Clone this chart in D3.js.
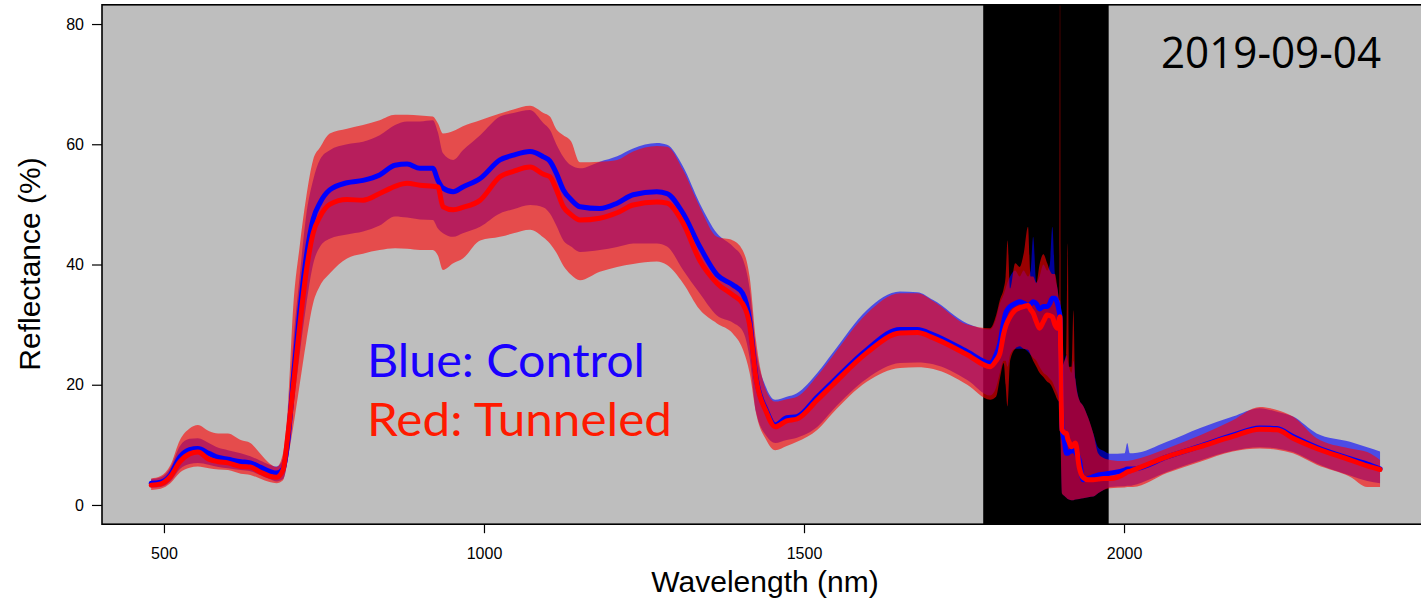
<!DOCTYPE html>
<html>
<head>
<meta charset="utf-8">
<script src="https://cdn.jsdelivr.net/npm/d3@7"></script>
<style>
  body { margin: 0; background: #fff; }
  svg { display: block; }
</style>
</head>
<body>
<svg id="chart" width="1421" height="605"></svg>
<script>
// Leaf reflectance spectra, 2019-09-04: mean and spread for control vs tunneled plots.
const wavelengths = [
  480, 495, 510, 525, 540, 553, 570, 585, 600, 620,
  635, 650, 665, 676, 686, 694, 702, 712, 722, 733,
  744, 759, 786, 811, 837, 861, 880, 900, 920, 928,
  936, 952, 967, 994, 1025, 1046, 1072, 1093, 1103, 1113,
  1124, 1136, 1150, 1181, 1208, 1233, 1270, 1286, 1311, 1337,
  1364, 1389, 1404, 1415, 1425, 1441, 1455, 1473, 1489, 1521,
  1545, 1598, 1650, 1677, 1702, 1755,
  1791, 1800, 1806, 1812, 1815, 1818, 1822, 1830, 1837, 1843,
  1850, 1854, 1858, 1863, 1868, 1874, 1880, 1884, 1888, 1892,
  1896, 1899, 1900, 1901, 1903, 1907, 1910, 1912, 1914, 1918,
  1921, 1924, 1930, 1936, 1944, 1952, 1960, 1968, 1978,
  2001, 2005, 2009, 2014, 2067, 2119, 2170, 2212, 2239, 2264,
  2301, 2353, 2380, 2400
];

const controlMean = [
  3.6, 3.8, 5.0, 8.0, 9.2, 9.4, 8.6, 7.9, 7.6, 7.2,
  7.0, 6.3, 5.6, 5.3, 6.0, 11, 21, 32, 41, 47.5,
  50.3, 52.4, 53.6, 54, 54.9, 56.5, 56.7, 56, 56, 54,
  52.7, 52.1, 52.9, 54.3, 57.4, 58.2, 58.8, 57.9, 57.2, 55.2,
  52.4, 50.8, 49.6, 49.3, 50.2, 51.6, 52.1, 51.8, 48.5, 43,
  38.3, 36.6, 35.2, 30.8, 21.3, 15.8, 13.3, 14.5, 14.7, 18,
  20.5, 25.8, 29.2, 29.2, 28.3, 25.5,
  23.6, 25.0, 26.9, 30.5, 31.9, 32.5, 33.0, 33.5, 33.8, 33.6,
  33.2, 33.4, 33.8, 33.5, 32.6, 33.0, 33.0, 33.5, 34.4, 34.4,
  33.5, 32.0, 31.3, 25.0, 13.0, 10.5, 8.6, 8.6, 8.8, 9.0,
  9.1, 8.8, 7.5, 4.2, 4.4, 4.7, 5.0, 5.1, 5.3,
  5.8, 6.0, 6.0, 6.0, 8.0, 9.8, 11.6, 12.8, 12.7, 11.4,
  9.6, 7.7, 6.8, 6.0
];
const controlLow = [
  2.9, 3.0, 3.9, 6.0, 6.8, 7.0, 6.7, 6.3, 6.1, 5.8,
  5.6, 5.0, 4.3, 3.9, 4.3, 8, 16, 25, 33, 40,
  43, 44.3, 45, 45.5, 46.5, 48, 47.8, 47.5, 47.4, 46,
  45.2, 44.6, 45.2, 46.3, 48.5, 49.2, 49.9, 49.5, 48.5, 46.5,
  44, 43, 42.1, 42.4, 42.9, 43.5, 43.5, 43, 39.1, 35.2,
  31.5, 30.3, 29, 24.5, 15.5, 11.5, 10.3, 10.8, 11.2, 13,
  15.8, 21, 23.6, 23.7, 23.4, 20.8,
  18.2, 19.5, 22, 24, 24, 23, 25, 26, 26, 26,
  25.5, 25, 24.5, 24, 23, 22, 21.5, 21, 20.5, 19.5,
  18.5, 17.5, 17, 12, 2, 1.5, 1.2, 1.0, 0.9, 0.8,
  0.8, 0.9, 1.0, 1.1, 1.3, 1.4, 2.0, 2.5, 3.0,
  3.1, 3.2, 3.2, 3.3, 5.5, 7.4, 9.0, 9.6, 9.4, 8.8,
  6.9, 4.9, 4.0, 3.6
];
const controlHigh = [
  4.3, 4.6, 6.2, 9.8, 11.0, 11.1, 10.3, 9.5, 9.1, 8.6,
  8.1, 7.4, 6.7, 6.4, 7.7, 15, 27, 38, 48, 54,
  57.5, 59, 60, 60.4, 61.5, 63.2, 63.8, 63.8, 64, 62,
  58.5, 57.4, 59, 61.5, 64.6, 65.2, 65.7, 63.5, 62.4, 60,
  57.9, 56.5, 56, 57.1, 58, 59.3, 60.2, 59.9, 56.3, 50.2,
  45.2, 43, 41, 36, 26, 19.5, 17.5, 18, 18.6, 22,
  25.3, 32.4, 35.5, 35.4, 34.1, 30.2,
  29.2, 31, 33.5, 35, 36, 37, 38, 39, 38, 39,
  38, 39, 44.6, 37, 38, 40, 39, 40, 46.3, 38.4,
  36, 34, 34, 33, 23, 24, 25, 24, 23, 22,
  24, 21, 17.5, 16.5, 14.5, 11.9, 9.5, 9.0, 8.5,
  8.6, 10.3, 8.6, 8.6, 10.5, 12.8, 14.7, 16.1, 15.5, 14.7,
  11.9, 10.5, 9.6, 8.9
];

const tunneledMean = [
  3.3, 3.5, 4.7, 7.2, 8.5, 8.8, 7.6, 7.2, 7.0, 6.4,
  6.3, 5.5, 4.8, 4.6, 5.8, 12, 19.7, 29.7, 38.6, 45.2,
  48, 50, 50.8, 50.7, 51.8, 53, 53.5, 53.2, 53, 52.9,
  49.6, 49.1, 49.5, 50.7, 54.6, 55.5, 56.2, 55, 54.6, 52.5,
  49.6, 48.3, 47.4, 47.7, 48.6, 49.9, 50.4, 50.2, 46.9, 40.7,
  36.9, 34.9, 33.5, 30, 21, 15.5, 13, 14, 14.3, 17.5,
  20, 25.3, 28.6, 28.7, 27.8, 25,
  23.0, 24.0, 25.2, 28.5, 29.7, 30.5, 31.3, 32.4, 32.8, 33.0,
  33.2, 32.5, 31.9, 30.5, 29.4, 30.5, 31.6, 31.5, 31.3, 30.0,
  29.4, 31.0, 31.3, 25.0, 12.5, 12.0, 11.9, 11.0, 10.5, 9.7,
  10.0, 10.3, 6.3, 4.6, 4.2, 4.2, 4.3, 4.4, 4.4,
  5.2, 5.5, 5.6, 5.8, 8.0, 9.7, 11.4, 12.6, 12.5, 11.1,
  9.4, 7.5, 6.5, 5.9
];
const tunneledLow = [
  2.5, 2.7, 3.6, 5.4, 6.2, 6.4, 6.1, 5.9, 5.8, 5.2,
  5.0, 4.4, 3.8, 3.6, 4.1, 8, 13, 20, 27, 33.5,
  36.5, 38.5, 41, 41.8, 42.4, 42.7, 42.6, 42.4, 42.4, 41.5,
  39.1, 40.2, 41, 44, 44.6, 45.2, 45.8, 44.5, 43.5, 42,
  39.8, 38.3, 37.4, 38.8, 39.6, 40.1, 40.5, 39.9, 36.9, 32.5,
  30.2, 28.5, 26, 22, 15.3, 10.8, 9.1, 9.8, 10.5, 12.5,
  15.3, 20.5, 22.8, 22.9, 22.6, 20,
  17.5, 18, 21, 23.6, 20, 16.4, 24, 26, 26.4, 26,
  25.8, 25, 24, 23, 22, 21.3, 20.5, 20.2, 19.5, 18.5,
  17.5, 17, 16, 10, 1.9, 1.5, 1.2, 1.0, 0.9, 0.8,
  0.8, 0.9, 1.0, 1.1, 1.3, 1.4, 2.0, 2.5, 2.8,
  2.9, 3.0, 3.0, 3.0, 5.3, 7.2, 8.9, 9.4, 9.2, 8.6,
  6.7, 4.7, 3.0, 3.0
];
const tunneledHigh = [
  4.4, 4.8, 6.6, 10.8, 12.7, 13.3, 12.3, 11.9, 11.9, 10.8,
  10.3, 8.6, 6.9, 6.3, 8.6, 17, 33, 43, 51, 57.4,
  59.5, 61.8, 62.6, 63.2, 64, 64.9, 64.9, 64.8, 64.6, 63.5,
  61.8, 62.2, 63, 64, 65.1, 65.8, 66.4, 65.2, 64.6, 62.5,
  61.5, 60.5, 57, 57.1, 57.4, 58.8, 59.7, 59.6, 55.7, 49.6,
  44.6, 44, 42.4, 38, 27.4, 19, 17.2, 17.6, 18, 21.5,
  24.8, 31.8, 35.2, 35.2, 33.9, 30,
  29.4, 31.5, 34.1, 36, 38, 44, 36, 40.2, 39.6, 41.7,
  46.3, 38, 38, 36.9, 40, 41.7, 40.2, 39, 38.4, 38.4,
  36, 34, 95, 33, 23, 24, 25, 43.5, 23, 23,
  32.4, 21, 17.5, 16.5, 14.5, 11.9, 8.5, 7.8, 7.5,
  7.3, 7.3, 7.4, 7.5, 9.4, 11.6, 14.1, 16.3, 15.8, 14.7,
  11.1, 9.4, 8.8, 7.5
];

// Water-absorption band shaded black
const waterBand = [1780, 1976];

const xTicks = [500, 1000, 1500, 2000];
const yTicks = [0, 20, 40, 60, 80];

const svg = d3.select("#chart");
const x = d3.scaleLinear().domain([403.2, 2476.8]).range([102, 1429.2]);
const y = d3.scaleLinear().domain([-3.2, 83.2]).range([524.2, 4.8]);

const plotL = x.range()[0], plotR = x.range()[1];
const plotT = y.range()[1], plotB = y.range()[0];

svg.append("defs").append("clipPath").attr("id", "plotClip")
  .append("rect")
  .attr("x", plotL).attr("y", plotT)
  .attr("width", plotR - plotL).attr("height", plotB - plotT);

const plot = svg.append("g").attr("clip-path", "url(#plotClip)");

plot.append("rect")
  .attr("x", plotL).attr("y", plotT)
  .attr("width", plotR - plotL).attr("height", plotB - plotT)
  .attr("fill", "#bebebe");

plot.append("rect")
  .attr("x", x(waterBand[0])).attr("y", plotT)
  .attr("width", x(waterBand[1]) - x(waterBand[0])).attr("height", plotB - plotT)
  .attr("fill", "#000");

function rows(mean, lo, hi) {
  return wavelengths.map((w, i) => ({ w, m: mean[i], lo: lo[i], hi: hi[i] }));
}
const control = rows(controlMean, controlLow, controlHigh);
const tunneled = rows(tunneledMean, tunneledLow, tunneledHigh);

const band = d3.area()
  .x(d => x(d.w)).y0(d => y(d.lo)).y1(d => y(d.hi))
  .curve(d3.curveMonotoneX);
const line = d3.line()
  .x(d => x(d.w)).y(d => y(d.m))
  .curve(d3.curveMonotoneX);

plot.append("path").datum(control).attr("d", band)
  .attr("fill", "rgb(0,0,255)").attr("fill-opacity", 0.6);
plot.append("path").datum(tunneled).attr("d", band)
  .attr("fill", "rgb(255,0,0)").attr("fill-opacity", 0.6);

plot.append("path").datum(control).attr("d", line)
  .attr("fill", "none").attr("stroke", "#0000ff").attr("stroke-width", 5)
  .attr("stroke-linejoin", "round").attr("stroke-linecap", "round");
plot.append("path").datum(tunneled).attr("d", line)
  .attr("fill", "none").attr("stroke", "#ff0000").attr("stroke-width", 5)
  .attr("stroke-linejoin", "round").attr("stroke-linecap", "round");

// Legend and date annotation
plot.append("text")
  .attr("x", 367).attr("y", 377)
  .attr("font-family", "Lato, 'Open Sans', sans-serif")
  .attr("font-size", 46)
  .attr("textLength", 278).attr("lengthAdjust", "spacingAndGlyphs")
  .attr("fill", "#1a00ff")
  .text("Blue: Control");
plot.append("text")
  .attr("x", 367).attr("y", 436)
  .attr("font-family", "Lato, 'Open Sans', sans-serif")
  .attr("font-size", 46)
  .attr("textLength", 305).attr("lengthAdjust", "spacingAndGlyphs")
  .attr("fill", "#ff1a00")
  .text("Red: Tunneled");
plot.append("text")
  .attr("x", 1161).attr("y", 68)
  .attr("font-family", "'Open Sans', 'Noto Sans', sans-serif")
  .attr("font-size", 44)
  .attr("textLength", 220).attr("lengthAdjust", "spacingAndGlyphs")
  .attr("fill", "#000")
  .text("2019-09-04");

// Axes
const xAxis = svg.append("g")
  .attr("transform", `translate(0,${plotB})`)
  .call(d3.axisBottom(x).tickValues(xTicks).tickSize(9).tickPadding(14).tickFormat(d3.format("d")));
const yAxis = svg.append("g")
  .attr("transform", `translate(${plotL},0)`)
  .call(d3.axisLeft(y).tickValues(yTicks).tickSize(10).tickPadding(8).tickFormat(d3.format("d")));
[xAxis, yAxis].forEach(g => {
  g.select(".domain").remove();
  g.selectAll(".tick line").attr("stroke", "#000").attr("stroke-width", 1.2);
  g.selectAll(".tick text")
    .attr("fill", "#000")
    .attr("font-family", "'Liberation Sans', Arial, sans-serif")
    .attr("font-size", 16);
});

// Plot frame
svg.append("rect")
  .attr("x", plotL).attr("y", plotT)
  .attr("width", plotR - plotL).attr("height", plotB - plotT)
  .attr("fill", "none").attr("stroke", "#000").attr("stroke-width", 1.6);

// Axis titles
svg.append("text")
  .attr("x", 765).attr("y", 592)
  .attr("text-anchor", "middle")
  .attr("font-family", "'Liberation Sans', Arial, sans-serif")
  .attr("font-size", 30)
  .text("Wavelength (nm)");
svg.append("text")
  .attr("transform", "translate(40,264) rotate(-90)")
  .attr("text-anchor", "middle")
  .attr("font-family", "'Liberation Sans', Arial, sans-serif")
  .attr("font-size", 30)
  .text("Reflectance (%)");
</script>
</body>
</html>
